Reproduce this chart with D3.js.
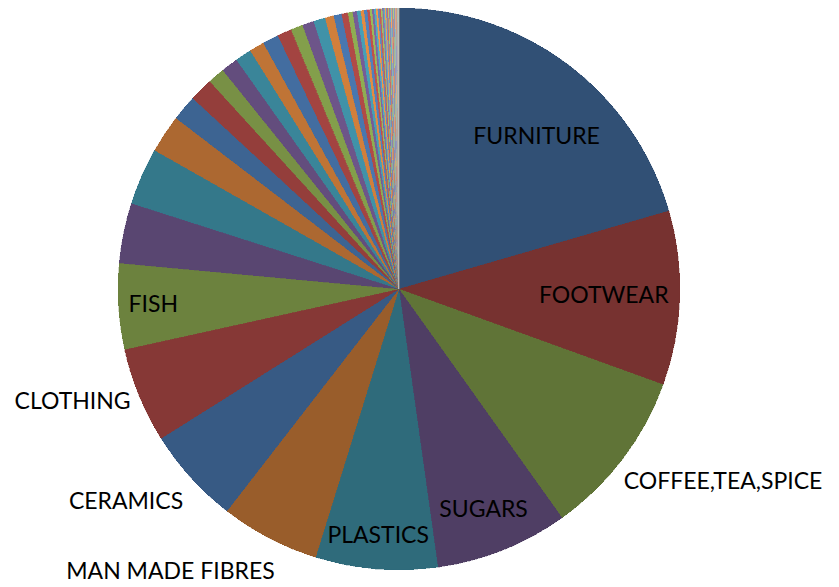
<!DOCTYPE html>
<html>
<head>
<meta charset="utf-8">
<script src="https://cdn.jsdelivr.net/npm/d3@7"></script>
<style>
  html, body { margin: 0; padding: 0; background: #fff; }
  svg { display: block; }
  text { font-family: Lato, "Open Sans", sans-serif; fill: #000; }
</style>
</head>
<body>
<svg id="chart" width="839" height="587"></svg>
<script>
// Named categories (only the largest slices carry a label)
const categories = [
  "FURNITURE", "FOOTWEAR", "COFFEE,TEA,SPICE", "SUGARS", "PLASTICS",
  "MAN MADE FIBRES", "CERAMICS", "CLOTHING", "FISH"
];

// Share of total (%) for every slice, in plotting order
const shares = [
  20.5, 10.0, 9.61, 7.64, 7.0, 5.69, 5.58, 5.47, 4.92,
  3.46, 3.28, 2.19, 1.47, 1.36, 0.97, 0.97, 0.94, 0.86, 0.92, 0.83,
  0.69, 0.67, 0.67, 0.50, 0.46, 0.36, 0.28, 0.24, 0.22, 0.19, 0.18,
  0.15, 0.125, 0.117, 0.11, 0.10,
  0.092, 0.086, 0.081, 0.075, 0.069, 0.064, 0.061, 0.058, 0.056, 0.053,
  0.050, 0.047, 0.044, 0.042, 0.039, 0.036, 0.033, 0.031, 0.028, 0.025,
  0.022, 0.019, 0.017, 0.014, 0.014, 0.011, 0.011, 0.008, 0.008, 0.006
];

// Label placement: radius as a fraction of the pie radius, angular nudge (deg), text anchor
const labelLayout = [
  { r: 0.733, da: 5.0,  anchor: "middle" },
  { r: 0.729, da: -0.1, anchor: "middle" },
  { r: 1.051, da: 3.25, anchor: "start" },
  { r: 0.837, da: 0.65, anchor: "middle" },
  { r: 0.879, da: 0.2,  anchor: "middle" },
  { r: 1.096, da: -3.7, anchor: "end" },
  { r: 1.076, da: -2.25, anchor: "end" },
  { r: 1.035, da: -0.35, anchor: "end" },
  { r: 0.876, da: 0.05, anchor: "middle" }
];

const baseColors = ["#4F81BD", "#C0504D", "#9BBB59", "#8064A2", "#4BACC6", "#F79646"];

const width = 839, height = 587;
const cx = 399, cy = 289, R = 281;

const svg = d3.select("#chart");
const g = svg.append("g").attr("transform", `translate(${cx},${cy})`);

const pie = d3.pie().sort(null).value(d => d);
const arcs = pie(shares);
const arc = d3.arc().innerRadius(0).outerRadius(R);

// Colour cycles through six accents, going from dark shades to light tints each round
const rounds = Math.ceil(shares.length / baseColors.length);
function sliceColor(i) {
  const base = d3.rgb(baseColors[i % baseColors.length]);
  const r = Math.floor(i / baseColors.length);
  const t = -0.38 + 0.76 * r / (rounds - 1);
  const f = c => t < 0 ? c * (1 + t) : c + (255 - c) * t;
  return d3.rgb(f(base.r), f(base.g), f(base.b)).formatHex();
}

g.selectAll("path.slice")
  .data(arcs)
  .join("path")
  .attr("class", "slice")
  .attr("d", arc)
  .attr("fill", (d, i) => sliceColor(i))
  .attr("stroke", (d, i) => sliceColor(i))
  .attr("stroke-width", 0.3)
  .attr("shape-rendering", "crispEdges");

g.selectAll("text.label")
  .data(arcs.slice(0, categories.length))
  .join("text")
  .attr("class", "label")
  .attr("font-size", 23)
  .attr("text-anchor", (d, i) => labelLayout[i].anchor)
  .attr("dy", "0.35em")
  .attr("x", (d, i) => {
    const a = (d.startAngle + d.endAngle) / 2 + labelLayout[i].da * Math.PI / 180;
    return labelLayout[i].r * R * Math.sin(a);
  })
  .attr("y", (d, i) => {
    const a = (d.startAngle + d.endAngle) / 2 + labelLayout[i].da * Math.PI / 180;
    return -labelLayout[i].r * R * Math.cos(a);
  })
  .text((d, i) => categories[i]);
</script>
</body>
</html>
